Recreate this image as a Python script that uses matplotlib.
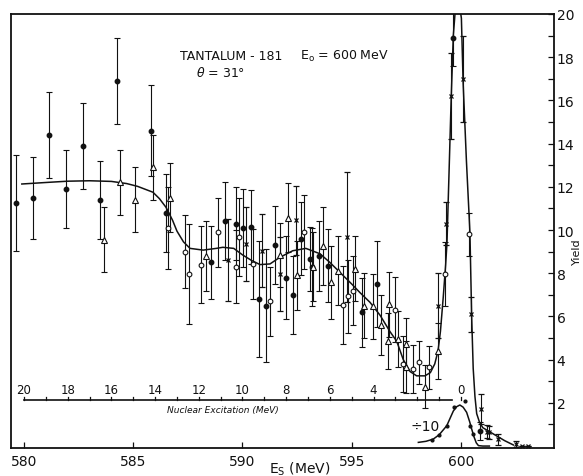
import matplotlib.pyplot as plt
import numpy as np

# scattered energy Es (MeV), yield, error -- by symbol type
dot_x = [579.63, 580.4, 581.14, 581.92, 582.7, 583.5, 584.24, 585.8, 586.5, 588.55,
         589.2, 589.7, 590.04, 590.37, 590.74, 591.08, 591.5, 592.0, 592.3, 592.7,
         593.1, 593.2, 593.5, 593.93, 595.45, 596.17, 599.62, 600.87]
dot_y = [11.25, 11.5, 14.4, 11.9, 13.9, 11.4, 16.9, 14.6, 10.8, 8.5,
         10.4, 10.3, 10.1, 10.15, 6.8, 6.5, 9.3, 7.8, 7.0, 9.6,
         8.66, 8.3, 8.8, 8.35, 6.2, 7.5, 18.9, 0.7]
dot_err = [2.2, 1.9, 2.0, 1.8, 2.0, 1.8, 2.0, 2.1, 1.8, 1.7,
           1.8, 1.7, 1.8, 1.7, 2.7, 2.6, 1.8, 1.9, 1.8, 1.7,
           1.5, 1.8, 1.6, 1.7, 1.6, 2.0, 1.3, 0.4]

circ_x = [586.6, 587.37, 587.57, 588.1, 588.9, 589.7, 589.85, 590.5, 591.26, 592.8,
          594.6, 594.84, 595.07, 596.98, 597.36, 597.8, 598.1, 598.55, 599.27, 600.38]
circ_y = [10.1, 9.0, 7.96, 8.4, 9.9, 8.3, 9.66, 8.43, 6.7, 9.9,
          6.53, 6.93, 7.19, 6.31, 3.8, 3.56, 3.87, 3.64, 7.96, 9.8]
circ_err = [1.9, 1.7, 2.3, 1.8, 1.6, 1.7, 1.8, 1.6, 1.6, 1.7,
            1.8, 1.7, 1.6, 1.5, 1.3, 1.1, 1.0, 1.0, 1.5, 1.0]

tri_x = [583.65, 584.4, 585.1, 585.9, 586.7, 588.33, 591.7, 592.1, 592.5, 593.25,
         593.67, 594.04, 594.39, 595.15, 595.56, 595.98, 596.34, 596.7, 596.65, 597.1,
         597.5, 597.48, 598.35, 598.96]
tri_y = [9.55, 12.2, 11.4, 12.9, 11.5, 8.8, 8.84, 10.56, 7.9, 8.3,
         9.27, 7.58, 8.12, 8.2, 6.5, 6.47, 5.6, 6.57, 4.85, 4.95,
         4.72, 3.64, 2.75, 4.41]
tri_err = [1.5, 1.5, 1.5, 1.5, 1.6, 1.6, 1.5, 1.6, 1.6, 1.6,
           1.8, 1.7, 1.6, 1.5, 1.5, 1.5, 1.4, 1.5, 1.3, 1.3,
           1.2, 1.2, 1.0, 1.3]

crs_x = [589.35, 590.16, 590.9, 591.7, 592.45, 594.77, 598.96, 599.3, 599.53, 600.08,
         600.47, 600.9, 601.2, 601.3, 601.7, 602.5, 602.8, 603.07]
crs_y = [8.6, 9.35, 9.04, 7.96, 10.46, 9.69, 6.5, 10.3, 16.2, 17.0,
         6.1, 1.7, 0.66, 0.63, 0.32, 0.1, 0.0, 0.0]
crs_err = [1.9, 1.7, 1.7, 1.7, 1.6, 3.0, 1.5, 1.0, 2.0, 2.0,
           0.8, 0.7, 0.3, 0.3, 0.25, 0.15, 0.0, 0.0]

# hand-drawn fit through the spectrum
fit_x = [579.9, 581.0, 582.0, 583.0, 584.0, 584.7, 585.2, 585.9, 586.2, 586.5,
         586.8, 587.0, 587.3, 587.6, 588.2, 588.8, 589.1, 589.6, 590.0, 590.4,
         590.8, 591.26, 591.7, 592.3, 592.9, 593.55, 594.0, 594.46, 595.0, 595.38,
         595.84, 596.3, 596.75, 597.06, 597.36, 597.67, 597.97, 598.35, 598.6, 598.8,
         598.95, 599.06, 599.19, 599.3, 599.36, 599.45, 599.55, 599.65, 599.75, 599.85,
         599.95, 600.02, 600.1, 600.25, 600.41, 600.49, 600.56, 600.64, 600.72, 600.85,
         601.0, 601.5, 602.0, 602.4]
fit_y = [12.13, 12.2, 12.26, 12.28, 12.25, 12.15, 12.02, 11.75, 11.45, 11.05,
         10.45, 9.95, 9.45, 9.15, 9.07, 9.15, 9.2, 9.15, 8.85, 8.6,
         8.4, 8.43, 8.73, 9.04, 9.15, 8.9, 8.5, 8.04, 7.5, 7.1,
         6.65, 6.05, 5.3, 4.85, 4.0, 3.45, 3.25, 3.25, 3.4, 3.8,
         4.4, 5.3, 6.9, 8.4, 9.4, 12.5, 16.0, 19.0, 20.3, 20.5,
         20.3, 19.8, 16.8, 13.2, 9.9, 6.0, 3.6, 2.3, 1.5, 1.1,
         0.85, 0.55, 0.25, 0.05]

# elastic peak divided by 10
div_x = [598.66, 599.0, 599.35, 599.7, 600.18, 600.41, 600.53]
div_y = [0.28, 0.5, 0.94, 1.79, 2.1, 0.94, 0.55]
div_fit_x = [598.05, 598.4, 598.73, 599.0, 599.35, 599.65, 599.8, 599.95, 600.1, 600.26,
             600.4, 600.49, 600.6, 600.7, 600.8, 601.0, 601.3]
div_fit_y = [0.17, 0.22, 0.32, 0.52, 0.94, 1.62, 1.82, 1.9, 1.8, 1.56,
             1.12, 0.79, 0.42, 0.15, 0.02, 0.0, 0.0]

# nuclear excitation scale = 600 - Es
exc_ticks = list(range(0, 21))
exc_labels = [20, 18, 16, 14, 12, 10, 8, 6, 4, 0]
exc_level = 2.13

x_ticks = [580, 585, 590, 595, 600]
y_ticks = list(range(1, 21))
y_labels = [str(v) if v % 2 == 0 else '' for v in y_ticks]

ink = '#111111'
plt.rcParams['font.family'] = 'DejaVu Sans'

fig = plt.figure(figsize=(5.83, 4.77), dpi=100)
ax = fig.add_axes([0.0189, 0.0587, 0.9314, 0.9099])

eb = dict(ecolor=ink, elinewidth=0.8, capsize=2.2, capthick=0.8, color=ink, linestyle='none')
ax.errorbar(dot_x, dot_y, yerr=dot_err, fmt='o', ms=3.2, mfc=ink, mec=ink, **eb)
ax.errorbar(circ_x, circ_y, yerr=circ_err, fmt='o', ms=3.4, mfc='white', mec=ink, mew=0.8, **eb)
ax.errorbar(tri_x, tri_y, yerr=tri_err, fmt='^', ms=4.6, mfc='white', mec=ink, mew=0.8, **eb)
ax.errorbar(crs_x, crs_y, yerr=crs_err, fmt='x', ms=3.0, mec=ink, mew=0.9, **eb)

ax.plot(fit_x, fit_y, color=ink, lw=1.1)

ax.plot(div_fit_x, div_fit_y, color=ink, lw=1.1)
ax.plot(div_x, div_y, 'o', color=ink, ms=2.0)
ax.text(598.35, 0.93, '÷10', fontsize=10, ha='center', va='center', color=ink)

# excitation energy scale drawn inside the plot
ax.plot([580, 599.6], [exc_level, exc_level], color=ink, lw=1.2)
for e in exc_ticks:
    ax.plot([600 - e, 600 - e], [exc_level, exc_level + 0.16], color=ink, lw=0.9)
for e in exc_labels:
    ax.text(600 - e, exc_level + 0.5, str(e), fontsize=8.5, ha='center', va='center', color=ink)
ax.text(589.1, exc_level - 0.45, 'Nuclear Excitation (MeV)', fontsize=6.5,
        ha='center', va='center', color=ink, style='italic')

ax.text(589.5, 18.1, 'TANTALUM - 181', fontsize=9, ha='center', va='center', color=ink)
ax.text(594.65, 18.1, r'E$_\mathregular{o}$ = 600 MeV', fontsize=9, ha='center', va='center', color=ink)
ax.text(589.0, 17.3, r'$\theta$ = 31°', fontsize=9, ha='center', va='center', color=ink)

ax.set_xlim(579.405, 604.26)
ax.set_ylim(-0.09, 20.0)
ax.set_xticks(x_ticks)
ax.set_xticklabels([str(v) for v in x_ticks])
ax.tick_params(axis='x', direction='in', length=4, width=0.9, pad=4, labelsize=10, colors=ink)

ax.yaxis.tick_right()
ax.set_yticks(y_ticks)
ax.set_yticklabels(y_labels)
ax.tick_params(axis='y', direction='in', length=4, width=0.9, pad=2, labelsize=10, colors=ink)

for s in ax.spines.values():
    s.set_linewidth(1.3)
    s.set_color(ink)

fig.text(577 / 583, 1 - 252 / 477, 'Yield', fontsize=8, rotation=90,
         ha='center', va='center', color=ink)
fig.text(300 / 583, 1 - 469 / 477, r'E$_\mathregular{S}$ (MeV)', fontsize=10,
         ha='center', va='center', color=ink)

fig.savefig('out.png', dpi=100)
